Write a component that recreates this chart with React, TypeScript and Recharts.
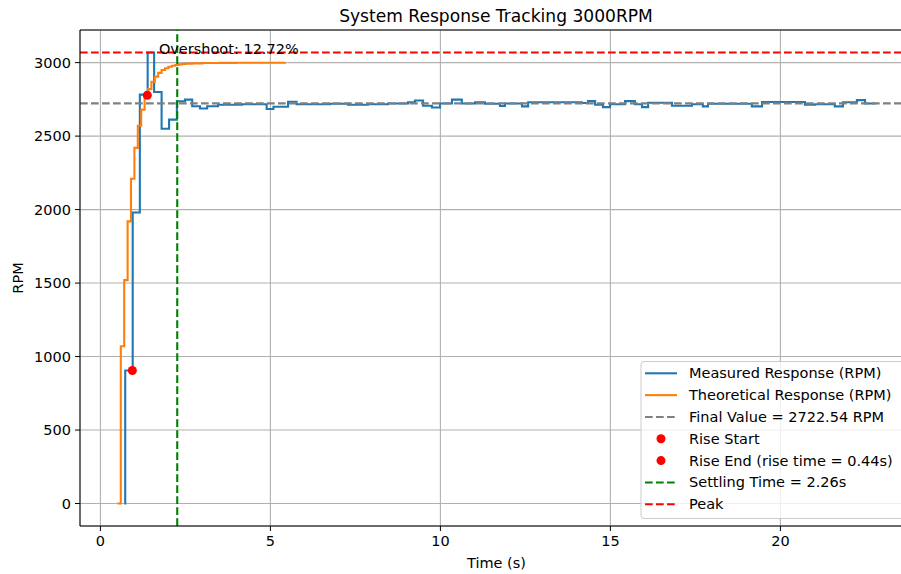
import {
	CartesianGrid,
	ComposedChart,
	Line,
	ReferenceDot,
	ReferenceLine,
	Scatter,
	XAxis,
	YAxis,
} from 'recharts'

const measuredTime = [
	0.7, 0.73, 0.95, 1.16, 1.39, 1.58, 1.8, 2.02, 2.25, 2.49, 2.7, 2.93, 3.14,
	3.46, 4.16, 4.89, 5.09, 5.52, 5.77, 6.75, 7.28, 7.87, 8.46, 9.05, 9.25, 9.49,
	9.75, 9.99, 10.34, 10.63, 11.02, 11.31, 11.75, 11.9, 12.4, 12.58, 14.16,
	14.34, 14.55, 14.78, 14.99, 15.43, 15.72, 15.93, 16.11, 16.81, 17.4, 17.72,
	17.87, 19.16, 19.46, 20.72, 21.02, 21.6, 21.84, 22.25, 22.49, 22.81,
]
const measuredRpm = [
	0, 905, 1980, 2782, 3069, 2800, 2550, 2612, 2737, 2748, 2703, 2688, 2703,
	2713, 2717, 2684, 2700, 2734, 2717, 2720, 2713, 2717, 2722, 2730, 2742, 2707,
	2695, 2722, 2748, 2722, 2730, 2720, 2705, 2722, 2702, 2730, 2725, 2738, 2713,
	2697, 2717, 2738, 2717, 2697, 2727, 2707, 2717, 2702, 2720, 2702, 2732, 2713,
	2717, 2702, 2730, 2745, 2722, 2722,
]

// theoretical response
const theoTime = [
	0.5, 0.6, 0.7, 0.8, 0.9, 1.0, 1.1, 1.2, 1.3, 1.4, 1.5, 1.6, 1.7, 1.8, 1.9,
	2.0, 2.1, 2.2, 2.3, 2.4, 2.5, 2.7, 3.0, 3.5, 4.0, 5.43,
]
const theoRpm = [
	0, 1070, 1520, 1920, 2210, 2420, 2570, 2680, 2760, 2820, 2870, 2905, 2930,
	2950, 2962, 2972, 2979, 2984, 2988, 2991, 2993, 2995, 2997, 2998, 2999, 3000,
]

const riseStart = [{ t: 0.94, rpm: 905 }]
const riseEnd = [{ t: 1.38, rpm: 2778 }]

const finalValue = 2722.54
const peakValue = 3068.84
const settlingTime = 2.26
const overshootPct = 12.72

const xTicks = [0, 5, 10, 15, 20]
const yTicks = [0, 500, 1000, 1500, 2000, 2500, 3000]
const xDomain = [-0.6, 23.9]
const yDomain = [-153, 3222]

const measured = measuredTime.map((t, i) => ({ t, rpm: measuredRpm[i] }))
const theoretical = theoTime.map((t, i) => ({ t, rpm: theoRpm[i] }))

const BLUE = '#1f77b4'
const ORANGE = '#ff7f0e'
const DASH = '7.7 3.3'
const FONT = 'DejaVu Sans, sans-serif'
const FS = 14.5

const legendItems = [
	{ label: 'Measured Response (RPM)', color: BLUE, kind: 'line' },
	{ label: 'Theoretical Response (RPM)', color: ORANGE, kind: 'line' },
	{ label: `Final Value = ${finalValue.toFixed(2)} RPM`, color: '#808080', kind: 'dash' },
	{ label: 'Rise Start', color: '#ff0000', kind: 'dot' },
	{ label: 'Rise End (rise time = 0.44s)', color: '#ff0000', kind: 'dot' },
	{ label: `Settling Time = ${settlingTime.toFixed(2)}s`, color: '#008000', kind: 'dash' },
	{ label: 'Peak', color: '#ff0000', kind: 'dash' },
]

const RedDot = (p: any) => <circle cx={p.cx} cy={p.cy} r={4.5} fill='#ff0000' />

export default function App() {
	return (
		<div
			style={{
				position: 'absolute',
				left: 0,
				top: 0,
				width: 901,
				height: 574,
				overflow: 'hidden',
				background: '#fff',
				fontFamily: FONT,
			}}
		>
			<ComposedChart width={915} height={574} margin={{ top: 30, right: 2, bottom: 0, left: 0 }}>
				<CartesianGrid stroke='#b0b0b0' strokeWidth={1.1} />
				<XAxis
					type='number'
					dataKey='t'
					domain={xDomain}
					ticks={xTicks}
					allowDataOverflow
					height={48}
					tickSize={5}
					tickMargin={5}
					tick={{ fill: '#000', fontSize: FS, fontFamily: FONT }}
					tickLine={{ stroke: '#000' }}
					axisLine={{ stroke: '#000' }}
					label={(p: any) => (
						<text
							x={p.viewBox.x + p.viewBox.width / 2}
							y={p.viewBox.y + 42}
							textAnchor='middle'
							fontSize={FS}
							fontFamily={FONT}
							fill='#000'
						>
							Time (s)
						</text>
					)}
				/>
				<YAxis
					type='number'
					dataKey='rpm'
					domain={yDomain}
					ticks={yTicks}
					allowDataOverflow
					width={80}
					tickSize={5}
					tickMargin={4}
					tick={{ fill: '#000', fontSize: FS, fontFamily: FONT }}
					tickLine={{ stroke: '#000' }}
					axisLine={{ stroke: '#000' }}
					label={(p: any) => {
						const cy = p.viewBox.y + p.viewBox.height / 2
						return (
							<text
								x={23}
								y={cy}
								textAnchor='middle'
								transform={`rotate(-90 23 ${cy})`}
								fontSize={FS}
								fontFamily={FONT}
								fill='#000'
							>
								RPM
							</text>
						)
					}}
				/>
				<ReferenceLine y={yDomain[1]} stroke='#000' strokeWidth={1} />
				<Line
					data={measured}
					dataKey='rpm'
					type='stepAfter'
					stroke={BLUE}
					strokeWidth={2.1}
					dot={false}
					activeDot={false}
					isAnimationActive={false}
				/>
				<Line
					data={theoretical}
					dataKey='rpm'
					type='stepAfter'
					stroke={ORANGE}
					strokeWidth={2.1}
					dot={false}
					activeDot={false}
					isAnimationActive={false}
				/>
				<ReferenceLine y={finalValue} stroke='#808080' strokeWidth={2.1} strokeDasharray={DASH} />
				<Scatter data={riseStart} dataKey='rpm' shape={RedDot} isAnimationActive={false} />
				<Scatter data={riseEnd} dataKey='rpm' shape={RedDot} isAnimationActive={false} />
				<ReferenceLine x={settlingTime} stroke='#008000' strokeWidth={2.1} strokeDasharray={DASH} />
				<ReferenceLine y={peakValue} stroke='#ff0000' strokeWidth={2.1} strokeDasharray={DASH} />
				<ReferenceDot
					x={1.72}
					y={peakValue}
					r={0}
					stroke='none'
					fill='none'
					label={(p: any) => (
						<text x={p.viewBox.x} y={p.viewBox.y + 1} fontSize={FS} fontFamily={FONT} fill='#000'>
							{`Overshoot: ${overshootPct.toFixed(2)}%`}
						</text>
					)}
				/>
			</ComposedChart>
			<svg
				width={901}
				height={574}
				style={{ position: 'absolute', left: 0, top: 0, pointerEvents: 'none' }}
				fontFamily={FONT}
			>
				<text x={496} y={22} textAnchor='middle' fontSize={17.1} fill='#000'>
					System Response Tracking 3000RPM
				</text>
				<rect
					x={641}
					y={361.5}
					width={265}
					height={157}
					rx={3}
					fill='#fff'
					fillOpacity={0.8}
					stroke='#cccccc'
					strokeWidth={1}
				/>
				{legendItems.map((item, i) => {
					const cy = 373.3 + i * 21.83
					return (
						<g key={item.label}>
							{item.kind === 'dot' ? (
								<circle cx={661} cy={cy} r={4.5} fill={item.color} />
							) : (
								<line
									x1={645}
									x2={677}
									y1={cy}
									y2={cy}
									stroke={item.color}
									strokeWidth={2.1}
									strokeDasharray={item.kind === 'dash' ? DASH : undefined}
								/>
							)}
							<text x={689} y={cy + 5} fontSize={FS} fill='#000'>
								{item.label}
							</text>
						</g>
					)
				})}
			</svg>
		</div>
	)
}
